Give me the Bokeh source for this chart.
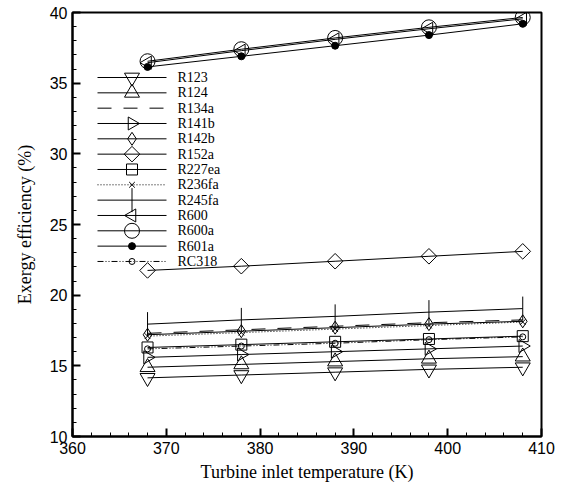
import math
from bokeh.plotting import figure
from bokeh.models import FixedTicker, Range1d
from bokeh.core.properties import value
from bokeh.embed import file_html
from bokeh.resources import INLINE

temps = [368, 378, 388, 398, 408]

R123 = [14.15, 14.35, 14.55, 14.75, 14.9]
R124 = [14.9, 15.1, 15.3, 15.5, 15.65]
R134a = [17.3, 17.55, 17.8, 18.05, 18.25]
R141b = [15.6, 15.8, 16.0, 16.2, 16.4]
R142b = [17.2, 17.45, 17.7, 17.95, 18.15]
R152a = [21.75, 22.05, 22.4, 22.75, 23.1]
R227ea = [16.3, 16.5, 16.7, 16.9, 17.1]
R236fa = [17.1, 17.35, 17.6, 17.85, 18.1]
R245fa = [17.95, 18.25, 18.5, 18.8, 19.05]
R600 = [36.45, 37.3, 38.1, 38.85, 39.55]
R600a = [36.55, 37.4, 38.2, 38.95, 39.65]
R601a = [36.15, 36.9, 37.65, 38.4, 39.2]
RC318 = [16.2, 16.4, 16.6, 16.85, 17.05]

x_ticks = [360, 370, 380, 390, 400, 410]
y_ticks = [10, 15, 20, 25, 30, 35, 40]

# name, values, line dash, marker, size, angle, filled
series = [
    ("R123", R123, "solid", "inverted_triangle", 15, 0, False),
    ("R124", R124, "solid", "triangle", 15, 0, False),
    ("R134a", R134a, "14 12", None, 0, 0, False),
    ("R141b", R141b, "solid", "triangle", 13, -math.pi / 2, False),
    ("R142b", R142b, "solid", "diamond", 13, 0, False),
    ("R152a", R152a, "solid", "square", 11, math.pi / 4, False),
    ("R227ea", R227ea, "solid", "square", 11, 0, False),
    ("R236fa", R236fa, "1 2", "x", 8, 0, False),
    ("R245fa", R245fa, "solid", "dash", 24, math.pi / 2, False),
    ("R600", R600, "solid", "triangle", 13, math.pi / 2, False),
    ("R600a", R600a, "solid", "circle", 15, 0, False),
    ("R601a", R601a, "solid", "circle", 7, 0, True),
    ("RC318", RC318, "6 2 1 2 1 2", "circle", 6, 0, False),
]

W, H = 555, 486
BL, BR, BT, BB = 72, 14, 12, 50
FW, FH = W - BL - BR, H - BT - BB

p = figure(width=W, height=H, x_range=Range1d(360, 410), y_range=Range1d(10, 40),
           output_backend="svg", toolbar_location=None,
           min_border_left=BL, min_border_right=BR, min_border_top=BT, min_border_bottom=BB)

# legend placement helpers (screen pixels inside the frame / row units)
ROW = 15.33
TOP0 = 65
p.extra_x_ranges = {"legx": Range1d(0, FW)}
p.extra_y_ranges = {"legy": Range1d((FH - TOP0) / ROW, -TOP0 / ROW)}

p.xgrid.visible = False
p.ygrid.visible = False
p.outline_line_color = "black"
p.outline_line_width = 2

p.xaxis.ticker = FixedTicker(ticks=x_ticks, minor_ticks=list(range(360, 411, 2)))
p.yaxis.ticker = FixedTicker(ticks=y_ticks, minor_ticks=list(range(10, 41, 1)))

for ax in (p.xaxis[0], p.yaxis[0]):
    ax.axis_line_width = 2
    ax.major_tick_in = 8
    ax.major_tick_out = 0
    ax.minor_tick_in = 4
    ax.minor_tick_out = 0
    ax.major_tick_line_width = 2
    ax.minor_tick_line_width = 1
    ax.major_label_text_font = "Liberation Sans"
    ax.major_label_text_font_size = "16px"
    ax.major_label_text_color = "black"
    ax.axis_label_text_font = "Liberation Serif"
    ax.axis_label_text_font_size = "18px"
    ax.axis_label_text_font_style = "normal"
    ax.axis_label_text_color = "black"

p.xaxis.axis_label = "Turbine inlet temperature (K)"
p.yaxis.axis_label = "Exergy efficiency (%)"
p.xaxis.major_label_standoff = 5
p.yaxis.major_label_standoff = 5
p.xaxis.axis_label_standoff = 5
p.yaxis.axis_label_standoff = 12

LX0, LX1, LXM, LXT = 25, 94, 59.5, 105

for i, (name, vals, dash, marker, size, angle, filled) in enumerate(series):
    p.line(temps, vals, line_color="black", line_width=1, line_dash=dash)
    p.line([LX0, LX1], [i, i], line_color="black", line_width=1, line_dash=dash,
           x_range_name="legx", y_range_name="legy")
    if marker is not None:
        kw = dict(marker=marker, size=size, angle=angle, line_color="black", line_width=1,
                  fill_color="black" if filled else None, fill_alpha=1 if filled else 0)
        p.scatter(temps, vals, **kw)
        p.scatter([LXM], [i], x_range_name="legx", y_range_name="legy", **kw)
    p.text([LXT], [i], text=[name], x_range_name="legx", y_range_name="legy",
           text_font=value("Liberation Serif"), text_font_size="14px",
           text_baseline="middle", text_align="left", text_color="black")

open("out.html", "w").write(file_html(p, INLINE))
